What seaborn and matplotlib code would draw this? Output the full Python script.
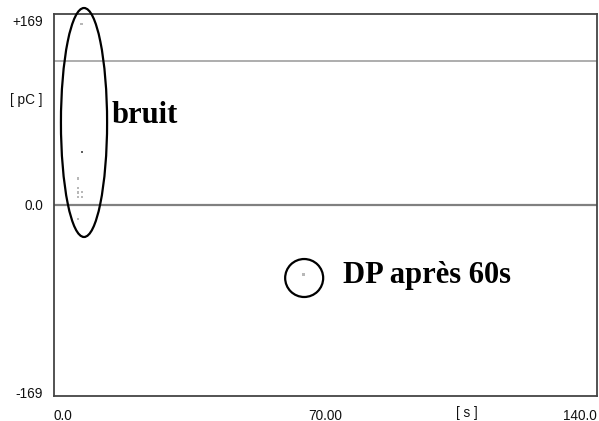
import matplotlib
matplotlib.use("Agg")
import matplotlib.pyplot as plt
import matplotlib.transforms as mtransforms
from matplotlib.patches import Ellipse
import seaborn as sns
import pandas as pd

# data
time_s = [7.0, 7.2, 6.2, 6.2, 6.2, 7.2, 6.2, 7.2, 6.2, 64.3]
charge_pC = [160.2, 46.9, 23.3, 15.0, 10.9, 11.5, 7.1, 7.1, -12.4, -61.7]
shade = ["light", "dark", "light", "light", "light", "light", "light", "light", "light", "light"]
threshold = 127.5
x_ticks = [0, 70, 140]
x_tick_labels = ["0.0", "70.00", "140.0"]
y_ticks = [-169, 0, 169]
y_tick_labels = ["-169", "0.0", "+169"]

df = pd.DataFrame({"t": time_s, "q": charge_pC, "shade": shade})

sns.set_style("white")
plt.rcParams["font.family"] = ["Liberation Sans", "DejaVu Sans"]
plt.rcParams["text.color"] = "black"

fig = plt.figure(figsize=(5.99, 4.21), dpi=100)
ax = fig.add_axes([54 / 599, 1 - 396 / 421, (597 - 54) / 599, (396 - 14) / 421])

ax.axhline(threshold, color="#a0a0a0", lw=1.2, zorder=1)
ax.axhline(0, color="#808080", lw=1.6, zorder=1)

sns.scatterplot(data=df, x="t", y="q", hue="shade",
                palette={"light": "#b8b8b8", "dark": "#606060"},
                marker="s", s=4, linewidth=0, legend=False, ax=ax, zorder=3)

ax.set_xlim(0, 140)
ax.set_ylim(-169, 169)
ax.set_xlabel("")
ax.set_ylabel("")

ax.set_xticks(x_ticks)
ax.set_xticklabels(x_tick_labels, fontsize=9.8, color="#111111")
xl = ax.get_xticklabels()
xl[0].set_ha("left")
xl[-1].set_ha("right")
ax.set_yticks(y_ticks)
ax.set_yticklabels(y_tick_labels, fontsize=9.8, color="#111111")
ax.tick_params(axis="both", length=0)
ax.tick_params(axis="x", pad=9)
ax.tick_params(axis="y", pad=8)

# nudge the end labels of the y axis inwards, as in the reference
yl = ax.get_yticklabels()
yl[0].set_transform(yl[0].get_transform() + mtransforms.ScaledTranslation(0, 4 / 100, fig.dpi_scale_trans))
yl[-1].set_transform(yl[-1].get_transform() + mtransforms.ScaledTranslation(0, -6 / 100, fig.dpi_scale_trans))

ax.text(-11 / 3.878, 92.9, "[ pC ]", fontsize=9.8, color="#111111",
        ha="right", va="center", clip_on=False)
ax.text(106.5, -169 - 17 * 0.8848, "[ s ]", fontsize=9.8, color="#111111",
        ha="center", va="center", clip_on=False)

for side in ["left", "bottom", "right", "top"]:
    ax.spines[side].set_visible(True)
    ax.spines[side].set_color("#444444")
    ax.spines[side].set_linewidth(1.3)

ax.add_patch(Ellipse((7.74, 73.0), 11.9, 202.6, fill=False, ec="black",
                     lw=1.6, clip_on=False, zorder=4))
ax.add_patch(Ellipse((64.5, -64.6), 9.8, 33.6, fill=False, ec="black",
                     lw=1.6, clip_on=False, zorder=4))

ax.text(14.9, 72.3, "bruit", fontsize=22, fontweight="bold", color="black",
        family=["Liberation Serif", "DejaVu Serif"], ha="left", va="baseline")
ax.text(74.5, -68.8, "DP après 60s", fontsize=22, fontweight="bold", color="black",
        family=["Liberation Serif", "DejaVu Serif"], ha="left", va="baseline")

fig.savefig("out.png", dpi=100)
